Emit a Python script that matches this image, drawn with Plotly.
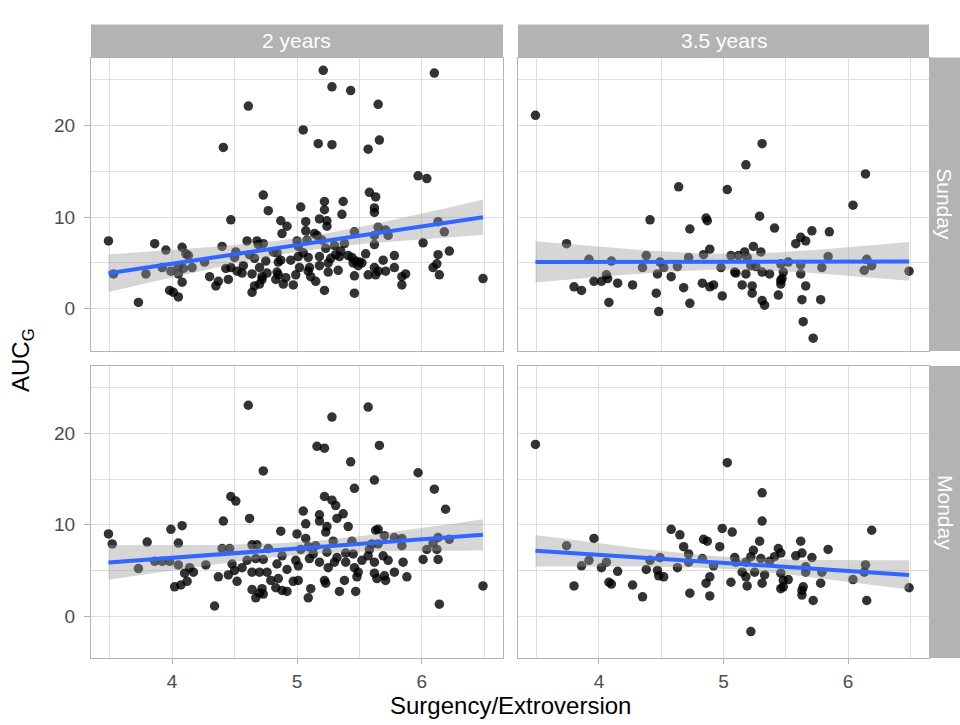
import numpy as np
import plotly.graph_objects as go

# ---------------- data ----------------
# Sunday, 2 years
sun2_x = [5.21, 6.10, 5.28, 5.43, 5.65, 4.61, 5.05, 5.17, 5.28, 5.57, 5.66, 4.41, 5.97, 6.04, 5.58, 5.63,
          4.73, 5.22, 5.37, 5.22, 5.03, 4.77, 5.36, 5.62, 5.62, 4.47, 4.87, 5.07, 5.18, 5.24, 5.24, 4.92,
          4.88, 5.65, 5.71, 5.73, 6.13, 6.18, 5.46, 5.07, 5.14, 5.16, 3.49, 3.86, 3.95, 4.08, 4.40, 4.60,
          4.68, 4.73, 4.69, 5.00, 5.01, 5.08, 5.20, 5.23, 5.30, 5.38, 5.62, 6.01, 6.22, 6.13, 4.11, 4.13,
          4.26, 4.51, 4.50, 4.62, 4.66, 4.81, 4.84, 5.01, 5.09, 5.18, 5.27, 5.31, 5.34, 5.41, 5.44, 5.47,
          5.50, 5.52, 5.69, 5.78, 3.53, 3.79, 3.92, 3.99, 4.05, 4.09, 4.16, 4.05, 4.08, 3.98, 4.01, 4.05,
          3.73, 4.35, 4.37, 4.45, 4.43, 4.47, 4.52, 4.56, 4.57, 4.64, 4.64, 4.66, 4.70, 4.72, 4.72, 4.76,
          4.83, 4.84, 4.85, 4.87, 4.85, 4.89, 4.91, 4.97, 4.99, 5.02, 5.10, 5.09, 5.11, 5.18, 5.22, 5.25,
          5.33, 5.46, 5.49, 5.46, 5.57, 5.62, 5.63, 5.65, 5.71, 5.78, 5.84, 5.84, 5.87, 6.09, 6.12, 6.14,
          6.49, 5.62, 5.05, 4.95, 5.35, 5.25, 4.75, 5.45, 5.15, 4.70, 5.55, 4.30]
sun2_y = [26.0, 25.7, 24.2, 23.8, 22.3, 22.1, 19.5, 18.0, 17.9, 17.4, 18.4, 17.6, 14.5, 14.2, 12.7, 12.2,
          12.4, 11.7, 11.7, 10.8, 11.1, 10.7, 10.3, 11.0, 10.5, 9.7, 9.6, 9.5, 9.8, 9.6, 9.0, 9.0,
          8.2, 8.9, 8.6, 8.0, 9.5, 8.4, 8.4, 8.5, 8.2, 8.0, 7.4, 7.1, 6.4, 6.7, 6.8, 7.4,
          7.4, 7.1, 7.0, 7.4, 6.8, 7.5, 7.5, 6.6, 6.9, 7.1, 7.0, 7.2, 6.3, 5.9, 6.0, 5.8,
          5.1, 6.2, 5.6, 5.9, 5.5, 6.2, 6.1, 5.7, 5.6, 5.7, 5.5, 5.9, 5.7, 5.8, 5.6, 5.2,
          5.1, 5.0, 5.3, 5.8, 3.8, 3.8, 4.5, 4.1, 4.6, 4.4, 4.5, 3.8, 2.9, 2.0, 1.8, 1.3,
          0.7, 2.5, 3.0, 3.2, 4.4, 4.5, 4.1, 3.9, 4.7, 3.8, 1.8, 2.5, 2.7, 3.2, 3.5, 3.9,
          3.2, 4.0, 5.1, 5.3, 3.7, 2.7, 3.4, 2.6, 3.7, 4.5, 4.5, 4.1, 3.5, 4.7, 2.0, 4.0,
          4.2, 3.6, 4.7, 1.7, 3.7, 4.5, 3.7, 4.1, 4.1, 4.5, 2.6, 3.5, 3.8, 4.5, 4.9, 3.7,
          3.3, 8.0, 6.1, 5.3, 6.3, 5.0, 5.2, 5.0, 3.0, 4.5, 6.0, 3.5]

# Sunday, 3.5 years
sun35_x = [3.49, 5.31, 5.18, 6.14, 4.64, 5.03, 6.04, 4.41, 4.86, 4.87, 5.29, 4.73, 5.41, 5.71, 5.85, 5.62,
           5.58, 5.66, 5.24, 5.30, 5.17, 4.89, 3.74, 3.92, 4.10, 4.38, 4.35, 4.49, 4.52, 4.63, 4.72, 4.84,
           4.98, 5.06, 5.12, 5.19, 5.22, 5.26, 5.46, 5.52, 5.62, 5.84, 5.79, 6.15, 6.19, 6.13, 6.49, 3.80,
           3.86, 3.96, 4.02, 4.06, 4.07, 4.15, 4.08, 4.27, 4.47, 4.46, 4.48, 4.58, 4.68, 4.73, 4.83, 4.89,
           4.92, 4.99, 5.09, 5.10, 5.15, 5.18, 5.23, 5.23, 5.31, 5.33, 5.31, 5.37, 5.44, 5.46, 5.47, 5.46,
           5.48, 5.62, 5.66, 5.63, 5.78, 5.64, 5.72]
sun35_y = [21.1, 18.0, 15.7, 14.7, 13.3, 13.0, 11.3, 9.7, 9.9, 9.6, 10.1, 8.7, 8.8, 8.5, 8.4, 7.8,
           7.1, 7.4, 6.8, 6.2, 6.2, 6.5, 7.1, 5.4, 5.2, 5.8, 4.5, 5.1, 4.5, 4.6, 5.6, 5.9,
           4.5, 5.8, 5.8, 5.6, 4.7, 4.6, 4.9, 5.1, 4.8, 5.7, 4.5, 5.4, 4.7, 4.2, 4.1, 2.4,
           2.0, 3.0, 3.0, 3.7, 3.3, 2.8, 0.7, 2.6, 3.8, 1.7, -0.3, 3.5, 2.3, 0.6, 2.8, 2.4,
           2.6, 1.4, 4.0, 3.9, 2.6, 3.8, 2.5, 1.7, 0.9, 0.4, 4.0, 3.8, 1.5, 3.1, 3.3, 2.7,
           4.0, 3.8, 2.5, 1.0, 1.0, -1.4, -3.2]

# Monday, 2 years
mon2_x = [4.61, 5.57, 5.28, 5.16, 5.22, 5.66, 5.43, 4.73, 5.97, 5.62, 5.46, 6.10, 4.47, 4.51, 5.22, 5.28,
          5.31, 6.19, 5.05, 5.18, 5.37, 5.32, 4.62, 4.41, 5.18, 5.07, 5.41, 5.24, 5.23, 3.99, 4.08, 3.49,
          4.87, 5.00, 5.07, 5.63, 5.65, 3.52, 3.80, 4.05, 3.86, 3.92, 3.98, 3.73, 4.05, 4.14, 4.10, 4.17,
          4.12, 4.02, 4.07, 4.27, 4.34, 4.37, 4.40, 4.46, 4.45, 4.48, 4.50, 4.52, 4.56, 4.60, 4.64, 4.68,
          4.64, 4.67, 4.73, 4.77, 4.70, 4.76, 4.64, 4.67, 4.70, 4.73, 4.72, 4.79, 4.83, 4.85, 4.84, 4.88,
          4.88, 4.92, 4.92, 4.97, 5.01, 4.99, 5.01, 5.03, 5.09, 5.10, 5.13, 5.11, 5.09, 5.18, 5.15, 5.24,
          5.29, 5.22, 5.23, 5.25, 5.30, 5.32, 5.34, 5.38, 5.39, 5.44, 5.45, 5.46, 5.48, 5.49, 5.47, 5.52,
          5.57, 5.58, 5.62, 5.62, 5.64, 5.65, 5.69, 5.70, 5.70, 5.71, 5.73, 5.78, 5.84, 5.84, 5.85, 5.78,
          5.88, 6.01, 6.04, 6.09, 6.12, 6.13, 6.13, 6.22, 6.14, 6.49, 5.60, 5.39]
mon2_y = [23.1, 22.9, 21.8, 18.6, 18.4, 18.7, 16.9, 15.9, 15.7, 14.9, 14.0, 13.9, 13.1, 12.6, 13.1, 12.7,
          12.1, 11.7, 11.5, 11.1, 11.2, 10.7, 10.7, 10.4, 10.4, 10.1, 9.8, 9.8, 9.2, 9.5, 9.9, 9.0,
          9.3, 9.0, 8.5, 9.4, 9.5, 7.9, 8.1, 8.0, 6.0, 6.0, 6.0, 5.2, 5.6, 5.3, 4.7, 4.8,
          3.8, 3.2, 3.4, 5.6, 1.1, 4.3, 7.4, 7.4, 4.5, 5.7, 5.0, 3.8, 5.3, 6.1, 7.8, 7.8,
          4.8, 6.3, 6.2, 7.4, 4.8, 4.8, 2.9, 2.0, 2.5, 2.4, 3.0, 3.9, 3.1, 4.1, 5.7, 6.6,
          2.8, 2.7, 5.1, 3.8, 3.9, 6.1, 5.5, 7.3, 7.6, 6.3, 6.8, 3.0, 2.0, 5.9, 7.7, 7.0,
          8.2, 3.9, 3.6, 5.3, 5.9, 6.4, 2.7, 3.9, 5.9, 8.2, 6.8, 5.3, 4.3, 4.8, 2.7, 6.1,
          6.6, 7.3, 5.9, 4.7, 4.1, 7.9, 6.6, 8.8, 4.4, 3.9, 6.1, 8.6, 8.5, 7.7, 5.9, 4.8,
          4.3, 6.2, 7.3, 8.0, 7.3, 8.6, 6.2, 8.4, 1.3, 3.3, 7.9, 6.9]

# Monday, 3.5 years
mon35_x = [3.49, 5.03, 5.31, 5.31, 4.58, 4.65, 4.99, 5.07, 6.19, 3.96, 3.74, 4.84, 4.87, 4.68, 4.72, 4.97,
           5.29, 5.24, 5.44, 5.46, 5.62, 5.63, 5.58, 5.71, 5.84, 3.86, 3.92, 4.02, 4.06, 4.15, 3.80, 4.08,
           4.10, 4.27, 4.35, 4.38, 4.41, 4.49, 4.47, 4.48, 4.52, 4.63, 4.72, 4.73, 4.83, 4.86, 4.89, 4.92,
           4.89, 5.06, 5.09, 5.10, 5.15, 5.18, 5.19, 5.18, 5.22, 5.25, 5.30, 5.31, 5.33, 5.37, 5.41, 5.22,
           5.46, 5.48, 5.52, 5.46, 5.48, 5.63, 5.64, 5.63, 5.72, 5.66, 5.66, 5.79, 5.78, 6.04, 6.14, 6.13,
           6.15, 6.49]
mon35_y = [18.8, 16.8, 13.5, 10.4, 9.5, 8.9, 9.6, 9.2, 9.4, 8.5, 7.7, 8.4, 8.2, 7.6, 6.8, 7.6,
           8.2, 7.2, 7.4, 6.9, 8.2, 6.9, 6.6, 6.4, 7.3, 5.5, 6.1, 5.3, 5.9, 4.9, 3.3, 3.7,
           3.5, 3.4, 2.1, 5.1, 6.1, 6.4, 5.0, 4.4, 4.3, 5.3, 5.9, 2.5, 6.3, 3.6, 4.3, 5.5,
           2.2, 3.7, 6.4, 5.9, 4.8, 4.3, 3.3, 5.9, 6.5, 4.8, 6.3, 3.6, 4.5, 6.0, 6.5, -1.7,
           4.7, 3.9, 4.0, 3.0, 3.2, 2.8, 3.2, 2.3, 1.7, 4.8, 5.4, 4.8, 3.6, 4.0, 5.6, 4.8,
           1.7, 3.1]

col_labels = ["2 years", "3.5 years"]
row_labels = ["Sunday", "Monday"]
x_title = "Surgency/Extroversion"
y_title = "AUC<sub>G</sub>"
x_ticks = [4, 5, 6]
y_ticks = [0, 10, 20]

panels = [(sun2_x, sun2_y), (sun35_x, sun35_y), (mon2_x, mon2_y), (mon35_x, mon35_y)]

# ---------------- layout geometry ----------------
W, H = 960, 725
dom_x = [(91 / W, 503 / W), (518 / W, 929 / W)]
dom_y = [(1 - 351 / H, 1 - 57.5 / H), (1 - 658 / H, 1 - 366 / H)]
XR = [3.35, 6.65]
YR = [-4.6, 27.4]
GRID = "#DEDEDE"
BORDER = "#B3B3B3"
FAMILY = "Liberation Sans, Arial, sans-serif"
TICKFONT = dict(family=FAMILY, size=19, color="#4D4D4D")


def lm_band(x, y, n=80):
    x = np.asarray(x, float)
    y = np.asarray(y, float)
    b, a = np.polyfit(x, y, 1)
    xs = np.linspace(x.min(), x.max(), n)
    yhat = a + b * xs
    resid = y - (a + b * x)
    df = len(x) - 2
    s = np.sqrt(np.sum(resid ** 2) / df)
    sxx = np.sum((x - x.mean()) ** 2)
    z = 1.959964
    t = z + (z ** 3 + z) / (4 * df) + (5 * z ** 5 + 16 * z ** 3 + 3 * z) / (96 * df ** 2)
    se = s * np.sqrt(1 / len(x) + (xs - x.mean()) ** 2 / sxx)
    return xs, yhat, yhat - t * se, yhat + t * se


fig = go.Figure()
for i, (px, py) in enumerate(panels):
    ax = "" if i == 0 else str(i + 1)
    xa, ya = "x" + ax, "y" + ax
    fig.add_trace(go.Scatter(x=px, y=py, mode="markers", xaxis=xa, yaxis=ya,
                             marker=dict(color="rgba(0,0,0,0.8)", size=9.5, line=dict(width=0)),
                             showlegend=False, hoverinfo="skip"))
    xs, yh, lo, hi = lm_band(px, py)
    fig.add_trace(go.Scatter(x=np.concatenate([xs, xs[::-1]]), y=np.concatenate([hi, lo[::-1]]),
                             mode="lines", fill="toself", fillcolor="rgba(153,153,153,0.4)",
                             line=dict(width=0), xaxis=xa, yaxis=ya, showlegend=False, hoverinfo="skip"))
    fig.add_trace(go.Scatter(x=xs, y=yh, mode="lines", line=dict(color="#3366FF", width=4),
                             xaxis=xa, yaxis=ya, showlegend=False, hoverinfo="skip"))

layout = dict(width=W, height=H, margin=dict(l=0, r=0, t=0, b=0),
              paper_bgcolor="white", plot_bgcolor="white", showlegend=False)
for i in range(4):
    r, c = divmod(i, 2)
    ax = "" if i == 0 else str(i + 1)
    bottom = r == 1
    left = c == 0
    layout["xaxis" + ax] = dict(
        domain=dom_x[c], anchor="y" + ax, range=XR, tickvals=x_ticks,
        showticklabels=bottom, ticks="outside" if bottom else "", ticklen=5, tickwidth=1,
        tickcolor=BORDER, tickfont=TICKFONT, ticklabelstandoff=1,
        showgrid=True, gridcolor=GRID, gridwidth=1, zeroline=False,
        showline=True, mirror=True, linecolor=BORDER, linewidth=1,
        minor=dict(tickvals=[3.5, 4.5, 5.5, 6.5], showgrid=True, gridcolor=GRID, gridwidth=1, ticks=""),
    )
    layout["yaxis" + ax] = dict(
        domain=dom_y[r], anchor="x" + ax, range=YR, tickvals=y_ticks,
        showticklabels=left, ticks="outside" if left else "", ticklen=6, tickwidth=1,
        tickcolor=BORDER, tickfont=TICKFONT, ticklabelstandoff=5,
        showgrid=True, gridcolor=GRID, gridwidth=1, zeroline=False,
        showline=True, mirror=True, linecolor=BORDER, linewidth=1,
        minor=dict(tickvals=[-5, 5, 15, 25], showgrid=True, gridcolor=GRID, gridwidth=1, ticks=""),
    )
fig.update_layout(**layout)

STRIP = "#B3B3B3"
shapes = []
annotations = []
strip_font = dict(family=FAMILY, size=21, color="white")
for c in range(2):
    shapes.append(dict(type="rect", xref="paper", yref="paper", x0=dom_x[c][0], x1=dom_x[c][1],
                       y0=1 - 57.5 / H, y1=1 - 24.5 / H, fillcolor=STRIP, line=dict(width=0), layer="below"))
    annotations.append(dict(text=col_labels[c], xref="paper", yref="paper",
                            x=(dom_x[c][0] + dom_x[c][1]) / 2, y=1 - 40 / H,
                            showarrow=False, font=strip_font, xanchor="center", yanchor="middle"))
for r in range(2):
    shapes.append(dict(type="rect", xref="paper", yref="paper", x0=930 / W, x1=1.02,
                       y0=dom_y[r][0], y1=dom_y[r][1], fillcolor=STRIP, line=dict(width=0), layer="below"))
    annotations.append(dict(text=row_labels[r], xref="paper", yref="paper",
                            x=945 / W, y=(dom_y[r][0] + dom_y[r][1]) / 2, textangle=90,
                            showarrow=False, font=strip_font, xanchor="center", yanchor="middle"))

title_font = dict(family=FAMILY, size=24, color="black")
annotations.append(dict(text=x_title, xref="paper", yref="paper", x=510 / W, y=1 - 705 / H,
                        showarrow=False, font=title_font, xanchor="center", yanchor="middle"))
annotations.append(dict(text=y_title, xref="paper", yref="paper", x=22 / W, y=1 - 360 / H,
                        textangle=-90, showarrow=False, font=title_font, xanchor="center", yanchor="middle"))
fig.update_layout(shapes=shapes, annotations=annotations)

fig.write_html("out.html")
